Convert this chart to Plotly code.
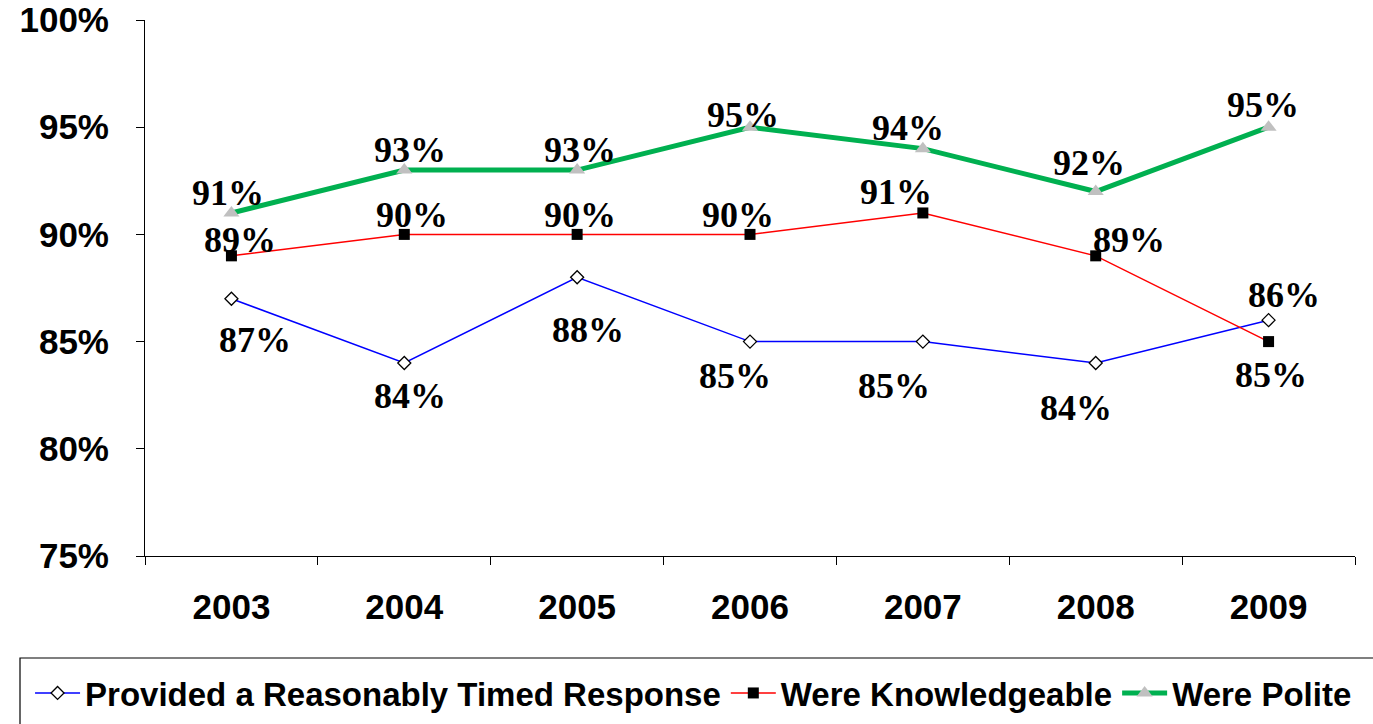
import plotly.graph_objects as go

years = ["2003", "2004", "2005", "2006", "2007", "2008", "2009"]
timed = [87, 84, 88, 85, 85, 84, 86]
knowledgeable = [89, 90, 90, 90, 91, 89, 85]
polite = [91, 93, 93, 95, 94, 92, 95]

series_names = ["Provided a Reasonably Timed Response", "Were Knowledgeable", "Were Polite"]

# label offsets in pixels (dx, dy) per point
timed_off = [(24, -41), (6, -33), (11, -53), (-15, -34), (-29, -44), (-20, -45), (15, 25)]
know_off = [(9, 16), (8, 19), (3, 19), (-12, 19), (-27, 21), (33, 16), (2, -33)]
polite_off = [(-3, 20), (6, 20), (3, 20), (-7, 12), (-15, 21), (-7, 29), (-6, 22)]

fig = go.Figure()
fig.add_trace(go.Scatter(
    x=years, y=timed, name=series_names[0], mode="lines+markers",
    line=dict(color="#0000FF", width=1.5),
    marker=dict(symbol="diamond", size=10, color="white", line=dict(color="black", width=1.3)),
))
fig.add_trace(go.Scatter(
    x=years, y=knowledgeable, name=series_names[1], mode="lines+markers",
    line=dict(color="#FF0000", width=1.5),
    marker=dict(symbol="square", size=11, color="black"),
))
fig.add_trace(go.Scatter(
    x=years, y=polite, name=series_names[2], mode="lines+markers",
    line=dict(color="#00B050", width=5),
    marker=dict(symbol="triangle-up", size=14, color="#C0C0C0"),
))

for vals, offs in ((timed, timed_off), (knowledgeable, know_off), (polite, polite_off)):
    for i, (v, (dx, dy)) in enumerate(zip(vals, offs)):
        fig.add_annotation(
            x=i, y=v, xref="x", yref="y", text=f"<b>{v}%</b>", showarrow=False,
            xshift=dx, yshift=dy,
            font=dict(family="Liberation Serif", size=36, color="black"),
        )

fig.update_layout(
    width=1373, height=724,
    margin=dict(l=145, r=18, t=20, b=168, autoexpand=False),
    paper_bgcolor="white", plot_bgcolor="white",
    showlegend=True,
    legend=dict(
        orientation="h", x=-0.095, xanchor="left", y=-0.2556, yanchor="middle",
        font=dict(family="Liberation Sans", size=33, color="black", weight="bold"),
        bgcolor="rgba(0,0,0,0)", itemwidth=45, tracegroupgap=0,
    ),
    shapes=[dict(type="rect", xref="paper", yref="paper",
                 x0=(20 - 145) / 1210, x1=1.05, y0=-0.33, y1=(556 - 658) / 536,
                 line=dict(color="black", width=1.2), fillcolor="rgba(0,0,0,0)")],
)
fig.update_xaxes(
    type="category", range=[-0.5, 6.5], showgrid=False,
    showline=True, linecolor="black", linewidth=1,
    ticks="outside", tickson="boundaries", ticklen=8, tickcolor="black",
    tickfont=dict(family="Liberation Sans", size=35, color="black", weight="bold"),
    ticklabelstandoff=20,
)
fig.update_yaxes(
    range=[75, 100], dtick=5, ticksuffix="%", showgrid=False, zeroline=False,
    showline=True, linecolor="black", linewidth=1,
    ticks="outside", ticklen=8, tickcolor="black",
    tickfont=dict(family="Liberation Sans", size=35, color="black", weight="bold"),
    ticklabelstandoff=20,
)

fig.write_html("out.html", config={"displayModeBar": False},
               post_script="document.body.style.margin='0';")
